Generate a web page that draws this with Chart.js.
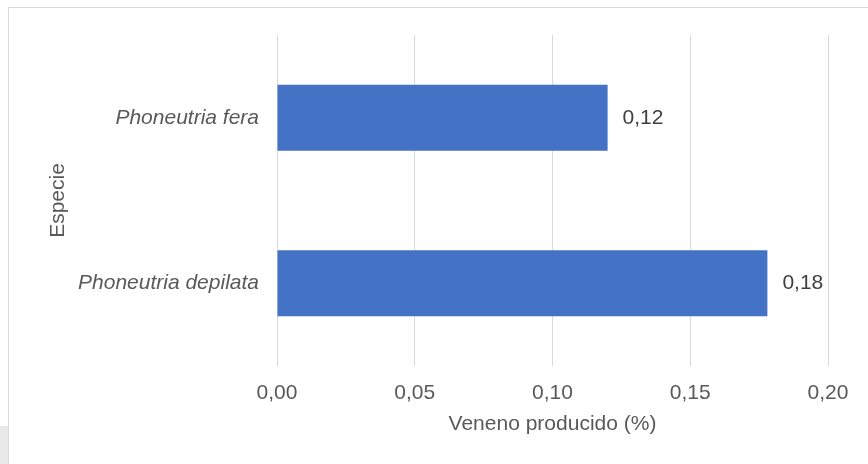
<!DOCTYPE html>
<html>
<head>
<meta charset="utf-8">
<script src="https://cdn.jsdelivr.net/npm/chart.js@4.4.1/dist/chart.umd.min.js"></script>
<style>
  html, body { margin: 0; padding: 0; background: #ffffff; overflow: hidden; }
  #wrap { position: absolute; left: 0; top: 0; width: 868px; height: 464px; }
  #frame { position: absolute; left: 8px; top: 7px; width: 900px; height: 500px; border: 1px solid #d9d9d9; box-sizing: border-box; }
  #gray { position: absolute; left: 0; top: 426px; width: 8px; height: 38px; background: #e8e8e8; }
  canvas { position: absolute; left: 0; top: 0; }
</style>
</head>
<body>
<div id="wrap">
  <div id="frame"></div>
  <div id="gray"></div>
  <canvas id="c" width="868" height="464"></canvas>
</div>
<script>
const categories = ["Phoneutria fera", "Phoneutria depilata"];
const venomValues = [0.12, 0.178];
const xTickValues = [0, 0.05, 0.10, 0.15, 0.20];
const xTitle = "Veneno producido (%)";
const yTitle = "Especie";

const FONT = '"Liberation Sans", Arial, sans-serif';
const fmt = v => Number(v).toFixed(2).replace('.', ',');

const dataLabelPlugin = {
  id: 'dataLabels',
  afterDatasetsDraw(chart) {
    const ctx = chart.ctx;
    const meta = chart.getDatasetMeta(0);
    ctx.save();
    ctx.font = '21px ' + FONT;
    ctx.fillStyle = '#404040';
    ctx.textAlign = 'left';
    ctx.textBaseline = 'middle';
    meta.data.forEach((bar, i) => {
      ctx.fillText(fmt(Math.round(venomValues[i] * 100) / 100), bar.x + 15, bar.y);
    });
    ctx.restore();
  }
};

new Chart(document.getElementById('c'), {
  type: 'bar',
  data: {
    labels: categories,
    datasets: [{
      data: venomValues,
      backgroundColor: '#4472C4',
      borderWidth: 0,
      barPercentage: 0.4,
      categoryPercentage: 1.0
    }]
  },
  plugins: [dataLabelPlugin],
  options: {
    indexAxis: 'y',
    responsive: false,
    animation: false,
    devicePixelRatio: 1,
    layout: { padding: { left: 46, right: 40, top: 35, bottom: 0 } },
    plugins: { legend: { display: false }, tooltip: { enabled: false } },
    scales: {
      x: {
        min: 0, max: 0.2,
        afterBuildTicks: (scale) => { scale.ticks = xTickValues.map(v => ({ value: v })); },
        afterFit: (scale) => { scale.height = 98; },
        grid: { color: '#d9d9d9', lineWidth: 1, drawTicks: false },
        border: { display: false },
        ticks: {
          padding: 15,
          color: '#595959',
          font: { family: FONT, size: 21 },
          callback: (v) => fmt(v),
          maxRotation: 0
        },
        title: {
          display: true, text: xTitle, color: '#595959',
          font: { family: FONT, size: 21 },
          padding: { top: 0, bottom: 27 }
        }
      },
      y: {
        afterFit: (scale) => { scale.width = 231; },
        grid: { display: false, drawTicks: false },
        border: { display: false },
        ticks: {
          padding: 18,
          color: '#595959',
          font: { family: FONT, size: 21, style: 'italic' }
        },
        title: {
          display: true, text: yTitle, color: '#595959',
          font: { family: FONT, size: 21 },
          padding: { top: 0, bottom: 0 }
        }
      }
    }
  }
});
</script>
</body>
</html>
